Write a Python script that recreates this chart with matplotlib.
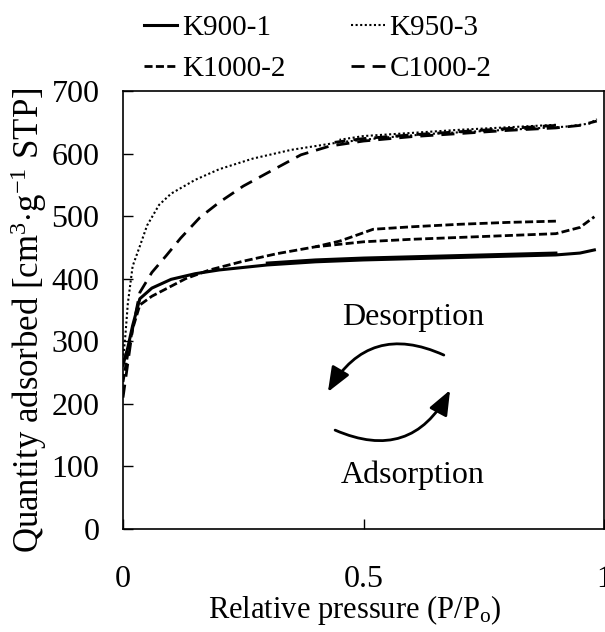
import matplotlib
matplotlib.use("Agg")
import matplotlib.pyplot as plt

# isotherm branches (P/Po, cm3/g STP)
k900_ads_x = [0.0, 0.01, 0.02, 0.035, 0.06, 0.1, 0.15, 0.2, 0.3, 0.4, 0.5, 0.6, 0.7, 0.8, 0.9, 0.95, 0.98]
k900_ads_y = [262, 290, 325, 368, 385, 399, 408, 414, 422, 427, 430, 432, 434, 436, 438, 441, 446]
k900_des_x = [0.9, 0.8, 0.7, 0.6, 0.5, 0.4, 0.3]
k900_des_y = [441, 439, 437, 435, 433, 430, 425]

k950_ads_x = [0.0, 0.005, 0.01, 0.02, 0.035, 0.05, 0.075, 0.1, 0.15, 0.2, 0.27, 0.35, 0.45, 0.55, 0.65, 0.75, 0.85, 0.92, 0.97, 0.985]
k950_ads_y = [270, 310, 360, 420, 452, 485, 518, 536, 558, 575, 592, 606, 618, 626, 632, 636, 640, 643, 648, 655]
k950_des_x = [0.9, 0.8, 0.7, 0.6, 0.5, 0.45]
k950_des_y = [646, 642, 638, 633, 628, 622]

k1000_ads_x = [0.0, 0.01, 0.02, 0.035, 0.06, 0.1, 0.13, 0.18, 0.25, 0.32, 0.4, 0.5, 0.6, 0.7, 0.8, 0.9, 0.95, 0.98]
k1000_ads_y = [235, 280, 320, 358, 372, 388, 400, 414, 428, 440, 451, 459, 463, 466, 469, 472, 482, 499]
k1000_des_x = [0.9, 0.8, 0.7, 0.6, 0.52, 0.48, 0.45, 0.4]
k1000_des_y = [492, 490, 487, 483, 479, 468, 460, 451]

c1000_ads_x = [0.0, 0.01, 0.02, 0.035, 0.06, 0.09, 0.12, 0.16, 0.2, 0.25, 0.3, 0.37, 0.43, 0.5, 0.6, 0.7, 0.8, 0.9, 0.95, 0.985]
c1000_ads_y = [210, 265, 320, 378, 410, 437, 465, 498, 522, 548, 569, 598, 612, 620, 627, 632, 637, 641, 645, 652]
c1000_des_x = [0.9, 0.8, 0.7, 0.6, 0.5, 0.44]
c1000_des_y = [645, 640, 635, 630, 624, 618]

y_ticks = [0, 100, 200, 300, 400, 500, 600, 700]
x_ticks = [0, 0.5, 1]
x_tick_labels = ["0", "0.5", "1"]

plt.rcParams["font.family"] = ["Liberation Serif", "DejaVu Serif"]
plt.rcParams["mathtext.fontset"] = "custom"
plt.rcParams["mathtext.rm"] = "Liberation Serif"
plt.rcParams["mathtext.it"] = "Liberation Serif:italic"

fig = plt.figure(figsize=(6.05, 6.32), dpi=100)
ax = fig.add_axes([123 / 605, 1 - 529 / 632, 481 / 605, 438 / 632])

styles = {
    "K900-1":  dict(color="black", lw=2.2, linestyle="-"),
    "K950-3":  dict(color="black", lw=1.5, linestyle=(0, (1, 1.2))),
    "K1000-2": dict(color="black", lw=2.0, linestyle=(0, (2.9, 1.2))),
    "C1000-2": dict(color="black", lw=2.0, linestyle=(0, (4.7, 2.9))),
}
series = {
    "K900-1":  (k900_ads_x, k900_ads_y, k900_des_x, k900_des_y),
    "K950-3":  (k950_ads_x, k950_ads_y, k950_des_x, k950_des_y),
    "K1000-2": (k1000_ads_x, k1000_ads_y, k1000_des_x, k1000_des_y),
    "C1000-2": (c1000_ads_x, c1000_ads_y, c1000_des_x, c1000_des_y),
}
handles = {}
for name, (ax_x, ax_y, de_x, de_y) in series.items():
    handles[name], = ax.plot(ax_x, ax_y, label=name, **styles[name])
    ax.plot(de_x, de_y, **styles[name])

ax.set_xlim(0, 1)
ax.set_ylim(0, 700)
ax.set_xticks(x_ticks)
ax.set_xticklabels(x_tick_labels)
ax.set_yticks(y_ticks)
ax.tick_params(axis="both", direction="in", length=7, width=1, labelsize=23)
ax.tick_params(axis="y", pad=17)
ax.tick_params(axis="x", pad=26)
for sp in ax.spines.values():
    sp.set_linewidth(1.2)

ax.set_xlabel("Relative pressure (P/P$_\\mathrm{o}$)", fontsize=22)
ax.xaxis.set_label_coords(0.482, -0.145)
ax.set_ylabel("Quantity adsorbed [cm$^\\mathrm{3}$$\\cdot$g$^\\mathrm{-1}$ STP]", fontsize=25)
ax.yaxis.set_label_coords(-0.153, 0.477)

# hysteresis arrows
arrow_kw = dict(arrowstyle="-|>,head_length=0.75,head_width=0.3", color="black",
                lw=2, mutation_scale=20, shrinkA=0, shrinkB=0)
ax.annotate("", xy=(0.426, 219), xytext=(0.667, 278),
            arrowprops=dict(connectionstyle="arc3,rad=0.45", **arrow_kw))
ax.annotate("", xy=(0.680, 222), xytext=(0.441, 158),
            arrowprops=dict(connectionstyle="arc3,rad=0.46", **arrow_kw))
ax.text(0.603, 326, "Desorption", fontsize=23, ha="center", va="baseline")
ax.text(0.603, 74, "Adsorption", fontsize=23, ha="center", va="baseline")

order = ["K900-1", "K1000-2", "K950-3", "C1000-2"]
fig.legend([handles[k] for k in order], order, ncol=2, frameon=False,
           loc="upper left", bbox_to_anchor=(126 / 605, 1.005), fontsize=21,
           handlelength=1.15, handletextpad=0.17, columnspacing=2.25,
           labelspacing=0.5, borderpad=0.1)

fig.savefig("out.png", dpi=100)
